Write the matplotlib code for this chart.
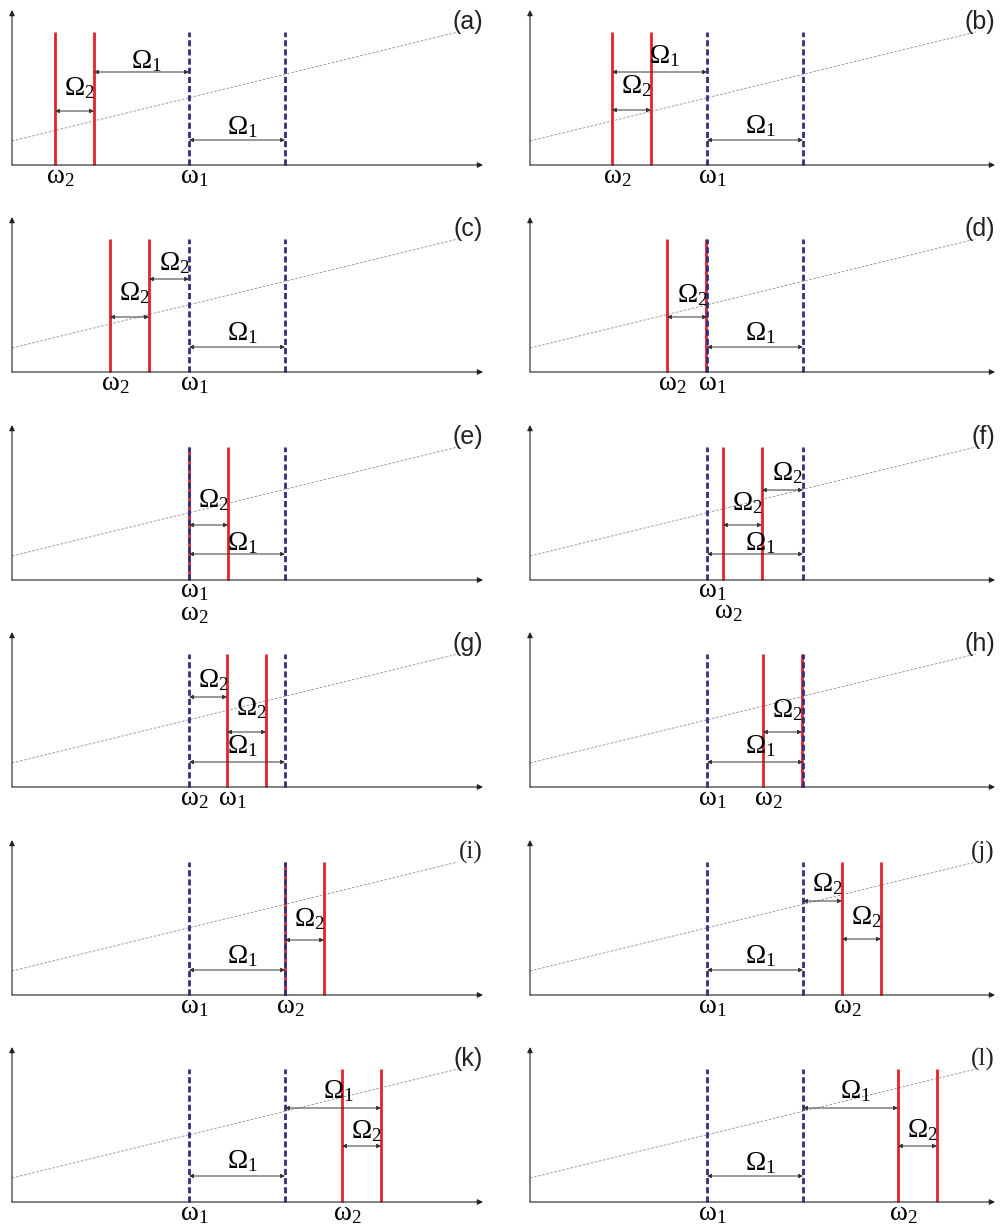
import matplotlib
matplotlib.use("Agg")
import matplotlib.pyplot as plt

plt.rcParams['mathtext.fontset'] = 'custom'
plt.rcParams['mathtext.rm'] = 'Liberation Serif'
plt.rcParams['mathtext.it'] = 'Liberation Serif:italic'

# frequencies, in units of Omega_1
w1 = 1.844
W1 = 1.0
W2 = 0.406
w2 = [0.448, 0.854, 1.021, 1.427, 1.844, 2.010,
      2.240, 2.427, 2.844, 3.250, 3.438, 3.833]
tags = ['a', 'b', 'c', 'd', 'e', 'f', 'g', 'h', 'i', 'j', 'k', 'l']
serif_tags = ['i', 'j', 'l']

# arrows: (from, to, height, label, label baseline)
arrows = {
    'a': [('r2', 'b1', 93, 'Omega_1', 97), ('r1', 'r2', 54, 'Omega_2', 70), ('b1', 'b2', 25, 'Omega_1', 31)],
    'b': [('r1', 'b1', 93, 'Omega_1', 102), ('r1', 'r2', 55, 'Omega_2', 72), ('b1', 'b2', 25, 'Omega_1', 32)],
    'c': [('r2', 'b1', 93, 'Omega_2', 102), ('r1', 'r2', 55, 'Omega_2', 72), ('b1', 'b2', 25, 'Omega_1', 32)],
    'd': [('r1', 'b1', 55, 'Omega_2', 70), ('b1', 'b2', 25, 'Omega_1', 32)],
    'e': [('b1', 'r2', 55, 'Omega_2', 73), ('b1', 'b2', 26, 'Omega_1', 30)],
    'f': [('r2', 'b2', 90, 'Omega_2', 100), ('r1', 'r2', 55, 'Omega_2', 70), ('b1', 'b2', 26, 'Omega_1', 30)],
    'g': [('b1', 'r1', 90, 'Omega_2', 100), ('r1', 'r2', 55, 'Omega_2', 72), ('b1', 'b2', 25, 'Omega_1', 34)],
    'h': [('r1', 'r2', 55, 'Omega_2', 70), ('b1', 'b2', 25, 'Omega_1', 34)],
    'i': [('r1', 'r2', 55, 'Omega_2', 69), ('b1', 'b2', 25, 'Omega_1', 32)],
    'j': [('b2', 'r1', 94, 'Omega_2', 104), ('r1', 'r2', 56, 'Omega_2', 71), ('b1', 'b2', 25, 'Omega_1', 32)],
    'k': [('b2', 'r2', 94, 'Omega_1', 104), ('r1', 'r2', 56, 'Omega_2', 64), ('b1', 'b2', 26, 'Omega_1', 34)],
    'l': [('b2', 'r1', 94, 'Omega_1', 104), ('r1', 'r2', 56, 'Omega_2', 65), ('b1', 'b2', 26, 'Omega_1', 32)],
}

# labels under the x axis: (position, name, baseline)
ticks_std = [('r1', 'omega_2', -18), ('b1', 'omega_1', -18)]
ticks = {t: ticks_std for t in ['a', 'b', 'c', 'd', 'h', 'i', 'j', 'k', 'l']}
ticks['e'] = [('b1', 'omega_1', -17), ('b1', 'omega_2', -40)]
ticks['f'] = [('b1', 'omega_1', -17), ('r1', 'omega_2', -38)]
ticks['g'] = [('b1', 'omega_2', -18), ('r1', 'omega_1', -18)]

W, H = 1001, 1225
px = 96.0  # pixels per unit
origins_x = [12, 530]
axis_len = [471, 465]
rows_y = [165, 372, 580, 787, 995, 1202]

RED = '#e3232b'
BLUE = '#2e2f86'

fig = plt.figure(figsize=(W / 100, H / 100), dpi=100)

def sym(name):
    return r'$\mathrm{\%s}$' % name

for k, tag in enumerate(tags):
    row, col = divmod(k, 2)
    ox, oy = origins_x[col], rows_y[row]
    ax = fig.add_axes([ox / W, (H - oy) / H, 480 / W, 160 / H])
    ax.set_xlim(0, 480 / px)
    ax.set_ylim(0, 160)
    ax.axis('off')

    pos = {'b1': w1, 'b2': w1 + W1, 'r1': w2[k], 'r2': w2[k] + W2}
    L = axis_len[col] / px

    # axes with arrow heads
    ax.annotate('', xy=(L, 0), xytext=(0, 0), annotation_clip=False,
                arrowprops=dict(arrowstyle='-|>', color='#222222', lw=0.8,
                                mutation_scale=8, shrinkA=0, shrinkB=0))
    ax.annotate('', xy=(0, 155), xytext=(0, 0), annotation_clip=False,
                arrowprops=dict(arrowstyle='-|>', color='#222222', lw=0.8,
                                mutation_scale=8, shrinkA=0, shrinkB=0))

    # thin dashed slope
    ax.plot([0, 446 / px], [24, 133], color='#8c8c8c', lw=0.6,
            dashes=(3, 2), clip_on=False)

    # spectral lines
    for key in ['r1', 'r2']:
        ax.plot([pos[key]] * 2, [0, 133], color=RED, lw=2.0,
                solid_capstyle='butt', clip_on=False)
    for key in ['b1', 'b2']:
        ax.plot([pos[key]] * 2, [0, 133], color=BLUE, lw=2.0,
                dashes=(2.2, 1.1), clip_on=False)

    for a, b, y, lab, ly in arrows[tag]:
        ax.annotate('', xy=(pos[b], y), xytext=(pos[a], y), annotation_clip=False,
                    arrowprops=dict(arrowstyle='<|-|>', color='#333333', lw=0.7,
                                    mutation_scale=6, shrinkA=0, shrinkB=0))
        mid = (pos[a] + pos[b]) / 2
        ax.text(mid + 5 / px, ly, sym(lab), fontsize=19.5, ha='center',
                va='baseline', clip_on=False)

    for key, name, ly in ticks[tag]:
        ax.text(pos[key] + 5 / px, ly, sym(name), fontsize=19.5, ha='center',
                va='baseline', clip_on=False)

    fam = 'Liberation Serif' if tag in serif_tags else 'Liberation Sans'
    ax.text(L, 143, '(%s)' % tag, fontsize=18, family=fam, ha='right',
            va='center', color='#222222', clip_on=False)

fig.savefig('out.png', dpi=100)
